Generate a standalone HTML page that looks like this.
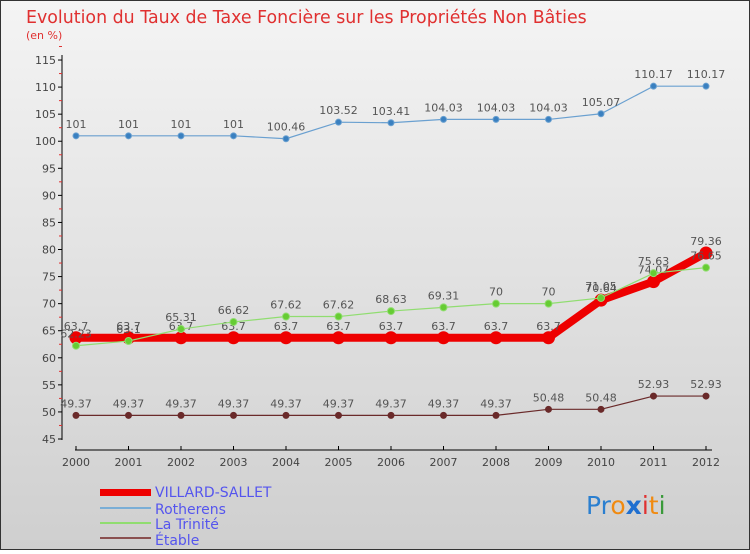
<!DOCTYPE html>
<html><head><meta charset="utf-8"><style>
body{margin:0;width:750px;height:550px;overflow:hidden;font-family:"DejaVu Sans","Liberation Sans",sans-serif}
</style></head><body>
<svg id="chart" width="750" height="550" xmlns="http://www.w3.org/2000/svg">
<defs><linearGradient id="bg" x1="0" y1="0" x2="0" y2="1"><stop offset="0" stop-color="#f4f4f4"/><stop offset="1" stop-color="#cfcfcf"/></linearGradient></defs>
<rect x="0.5" y="0.5" width="749" height="549" fill="url(#bg)" stroke="#333"/>
<text x="26" y="23" font-size="17.4" fill="#e03030">Evolution du Taux de Taxe Foncière sur les Propriétés Non Bâties</text>
<text x="26" y="39" font-size="11" fill="#e03030">(en %)</text>
<g id="axes"></g><g id="series"></g>
<g font-size="14" fill="#5555ee">
<rect x="100" y="489" width="51" height="7" fill="#ee0000"/><text x="155" y="497" fill="#5555ee">VILLARD-SALLET</text>
<rect x="100" y="507" width="51" height="2" fill="#7aaed6"/><text x="155" y="514" fill="#5555ee">Rotherens</text>
<rect x="100" y="522" width="51" height="2" fill="#90dd70"/><text x="155" y="529" fill="#5555ee">La Trinité</text>
<rect x="100" y="537" width="51" height="2" fill="#8a5050"/><text x="155" y="545" fill="#5555ee">Étable</text>
</g>
<text x="586" y="514" font-size="25"><tspan fill="#2a7fd0">Pr</tspan><tspan fill="#f08a10">o</tspan><tspan fill="#1f6fd0" font-weight="bold">x</tspan><tspan fill="#e03030">i</tspan><tspan fill="#f08a10">t</tspan><tspan fill="#3a9a3a">i</tspan></text>
</svg>
<script>
const years=[2000,2001,2002,2003,2004,2005,2006,2007,2008,2009,2010,2011,2012];
const villard=[63.7,63.7,63.7,63.7,63.7,63.7,63.7,63.7,63.7,63.7,70.64,74.07,79.36];
const rotherens=[101,101,101,101,100.46,103.52,103.41,104.03,104.03,104.03,105.07,110.17,110.17];
const trinite=[62.23,63.1,65.31,66.62,67.62,67.62,68.63,69.31,70,70,71.05,75.63,76.65];
const etable=[49.37,49.37,49.37,49.37,49.37,49.37,49.37,49.37,49.37,50.48,50.48,52.93,52.93];
const yTicks=[45,50,55,60,65,70,75,80,85,90,95,100,105,110,115];
const NS="http://www.w3.org/2000/svg";
const x=i=>76+i*52.5, y=v=>439-(v-45)*5.414;
function mk(t,a,p){const e=document.createElementNS(NS,t);for(const k in a)e.setAttribute(k,a[k]);p.appendChild(e);return e;}
const ax=document.getElementById('axes'),sg=document.getElementById('series');
mk('line',{x1:62,y1:55,x2:62,y2:440,stroke:'#000'},ax);
mk('line',{x1:75,y1:450,x2:712,y2:450,stroke:'#000'},ax);
yTicks.forEach(v=>{
 mk('line',{x1:58,y1:y(v),x2:62,y2:y(v),stroke:'#000'},ax);
 mk('line',{x1:59,y1:y(v+2.5),x2:62,y2:y(v+2.5),stroke:'#e03030'},ax);
 const t=mk('text',{x:56,y:y(v)+4,'font-size':11,'text-anchor':'end',fill:'#444'},ax);t.textContent=v;
 
 
});
years.forEach((yr,i)=>{
 mk('line',{x1:x(i),y1:446,x2:x(i),y2:450,stroke:'#000'},ax);
 const t=mk('text',{x:x(i),y:466,'font-size':11,'text-anchor':'middle',fill:'#444'},ax);t.textContent=yr;
 
 
});
function series(name,vals,col,w,r,dot){
 const g=mk('g',{},sg);
 
 
 mk('polyline',{points:vals.map((v,i)=>x(i)+','+y(v)).join(' '),fill:'none',stroke:col,'stroke-width':w},g);
 vals.forEach((v,i)=>{
  const c=mk('circle',{cx:x(i),cy:y(v),r:r,fill:dot,stroke:col},g);
  
  
  const t=mk('text',{x:x(i),y:y(v)-8,'font-size':11,'text-anchor':'middle',fill:'#555'},g);t.textContent=v;
 });
}
series('series-rotherens',rotherens,'#6aa0d0',1.2,3,'#3a80c0');
series('series-etable',etable,'#6a2a2a',1.2,3,'#6a2a2a');
series('series-villard-sallet',villard,'#ee0000',8,6,'#ee0000');
series('series-la-trinite',trinite,'#90dd70',1.2,3.5,'#66cc33');
</script>
</body></html>
